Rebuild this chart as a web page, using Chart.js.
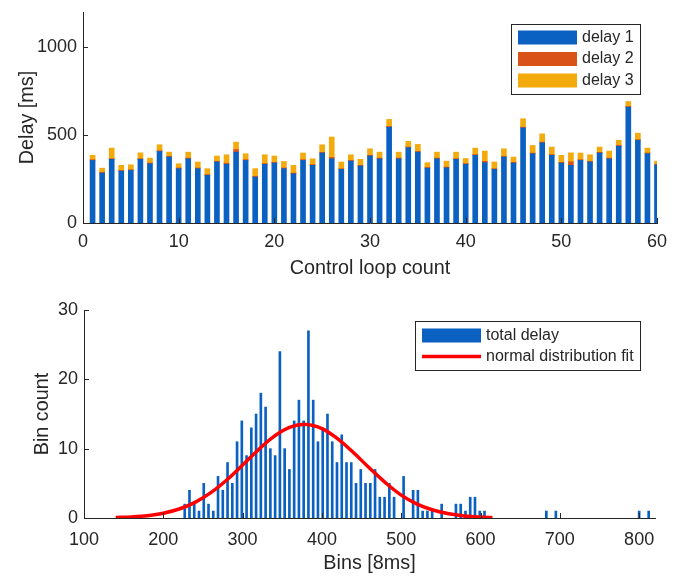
<!DOCTYPE html>
<html lang="en">
<head>
    <meta charset="UTF-8">
    <title>Delay charts</title>
    <style>
        body {
            margin: 0;
            background: #ffffff;
        }
        .wrap {
            position: relative;
            width: 681px;
            height: 577px;
        }
        #delayChart {
            position: absolute;
            left: 0;
            top: 0;
        }
        #histChart {
            position: absolute;
            left: 0;
            top: 290px;
        }
    </style>
</head>
<body>
    <div class="wrap">
        <canvas id="delayChart" width="681" height="290"></canvas>
        <canvas id="histChart" width="681" height="287"></canvas>
    </div>

    <script src="https://cdn.jsdelivr.net/npm/chart.js"></script>
    <script>
        // top chart: delay per control loop [ms]
        const loopCount = [1, 2, 3, 4, 5, 6, 7, 8, 9, 10, 11, 12, 13, 14, 15, 16, 17, 18, 19, 20,
            21, 22, 23, 24, 25, 26, 27, 28, 29, 30, 31, 32, 33, 34, 35, 36, 37, 38, 39, 40,
            41, 42, 43, 44, 45, 46, 47, 48, 49, 50, 51, 52, 53, 54, 55, 56, 57, 58, 59, 60];
        const delay1 = [356, 284, 362, 295, 299, 362, 337, 407, 375, 309, 365, 309, 271, 347, 334, 403, 356, 261, 334, 341,
            309, 280, 356, 328, 398, 365, 305, 352, 324, 381, 365, 545, 365, 428, 403, 312, 365, 314, 362, 334,
            385, 343, 305, 375, 341, 541, 394, 456, 385, 341, 328, 356, 347, 398, 365, 437, 659, 470, 394, 330];
        const delay2 = [4, 4, 4, 4, 4, 4, 4, 4, 4, 4, 4, 4, 4, 4, 6, 15, 4, 4, 4, 4,
            4, 4, 4, 4, 4, 8, 4, 4, 4, 4, 4, 4, 4, 4, 4, 4, 4, 4, 4, 4,
            4, 8, 4, 4, 4, 4, 4, 4, 4, 4, 20, 4, 4, 4, 4, 4, 4, 4, 4, 4];
        const delay3 = [25, 24, 60, 29, 28, 33, 28, 34, 24, 24, 34, 34, 34, 30, 48, 42, 34, 44, 50, 36,
            37, 44, 38, 33, 43, 116, 38, 32, 34, 37, 34, 40, 34, 32, 40, 27, 34, 34, 37, 29,
            37, 58, 38, 43, 30, 48, 43, 47, 43, 40, 51, 38, 37, 30, 40, 29, 28, 37, 28, 18];
        const loopTicks = [0, 10, 20, 30, 40, 50, 60];
        const delayTicks = [0, 500, 1000];

        // bottom chart: histogram of total delay + normal fit
        const binX = [227, 233, 239, 245, 251, 257, 263, 269, 275, 281, 287, 293, 299, 305, 311, 317, 323, 329, 335, 341,
            347, 353, 359, 365, 371, 377, 383, 389, 395, 401, 407, 413, 419, 425, 431, 437, 443, 449, 455, 461,
            467, 473, 479, 485, 491, 503, 515, 521, 527, 533, 539, 551, 569, 575, 581, 587, 593, 599, 605,
            683, 695, 800, 812];
        const binCount = [2, 4, 2, 1, 5, 2, 1, 6, 4, 8, 5, 11, 14, 9, 13, 15, 18, 16, 10, 9,
            24, 10, 7, 14, 17, 14, 27, 17, 11, 13, 15, 11, 8, 12, 8, 8, 5, 7, 5, 5,
            7, 3, 3, 5, 3, 6, 4, 4, 1, 1, 1, 2, 2, 2, 1, 3, 3, 1, 1,
            1, 1, 1, 1];
        const fitX = [140, 160, 180, 200, 220, 240, 260, 280, 300, 320, 340, 360, 380,
            400, 420, 440, 460, 480, 500, 520, 540, 560, 580, 600, 615];
        const fitY = [0.07, 0.16, 0.34, 0.69, 1.3, 2.26, 3.66, 5.48, 7.63, 9.85, 11.8, 13.1, 13.5,
            12.9, 11.4, 9.4, 7.2, 5.1, 3.3, 2.0, 1.15, 0.6, 0.29, 0.13, 0.07];
        const binTicks = [100, 200, 300, 400, 500, 600, 700, 800];
        const countTicks = [0, 10, 20, 30];

        const TEXT = '#262626';
        const BLUE = '#0B61C1';
        const ORANGE = '#D95319';
        const YELLOW = '#F2AA0C';
        const FONT = 'Arial, "Liberation Sans", Helvetica, sans-serif';

        Chart.defaults.font.family = FONT;
        Chart.defaults.color = TEXT;

        // MATLAB style ticks pointing into the plot
        const inwardTicks = {
            id: 'inwardTicks',
            afterDatasetsDraw(chart) {
                const { ctx, chartArea: a, scales } = chart;
                ctx.save();
                ctx.strokeStyle = TEXT;
                ctx.lineWidth = 1;
                scales.x.ticks.forEach(t => {
                    const px = Math.round(scales.x.getPixelForValue(t.value)) + 0.5;
                    ctx.beginPath();
                    ctx.moveTo(px, a.bottom);
                    ctx.lineTo(px, a.bottom - 5);
                    ctx.stroke();
                });
                scales.y.ticks.forEach(t => {
                    const py = Math.round(scales.y.getPixelForValue(t.value)) + 0.5;
                    ctx.beginPath();
                    ctx.moveTo(a.left, py);
                    ctx.lineTo(a.left + 5, py);
                    ctx.stroke();
                });
                ctx.restore();
            }
        };

        // legend box drawn inside the plot area
        const boxLegend = {
            id: 'boxLegend',
            afterDraw(chart, args, opts) {
                const { ctx } = chart;
                const ds = chart.data.datasets;
                ctx.save();
                ctx.fillStyle = '#ffffff';
                ctx.fillRect(opts.x, opts.y, opts.w, opts.h);
                ctx.strokeStyle = TEXT;
                ctx.lineWidth = 1;
                ctx.strokeRect(opts.x + 0.5, opts.y + 0.5, opts.w, opts.h);
                ctx.font = '16px ' + FONT;
                ctx.textBaseline = 'middle';
                opts.order.forEach((idx, i) => {
                    const d = ds[idx];
                    const cy = opts.y + opts.first + i * opts.step;
                    const sx = opts.x + 7;
                    if (d.type === 'line') {
                        ctx.strokeStyle = d.borderColor;
                        ctx.lineWidth = d.borderWidth;
                        ctx.beginPath();
                        ctx.moveTo(sx, cy);
                        ctx.lineTo(sx + 59, cy);
                        ctx.stroke();
                    } else {
                        ctx.fillStyle = d.backgroundColor;
                        ctx.fillRect(sx, cy - 7, 59, 14);
                    }
                    ctx.fillStyle = TEXT;
                    ctx.fillText(d.label, sx + 64, cy);
                });
                ctx.restore();
            }
        };

        const setTicks = values => scale => {
            scale.ticks = values.map(v => ({ value: v }));
        };
        const plainLabel = v => String(v);
        // fixed y-axis width, no extra room reserved for the end labels
        const fixWidth = w => scale => {
            scale.width = w;
            scale.paddingTop = 0;
            scale.paddingBottom = 0;
        };

        new Chart(document.getElementById('delayChart'), {
            type: 'bar',
            data: {
                labels: loopCount,
                datasets: [
                    { label: 'delay 1', data: delay1, backgroundColor: BLUE, barThickness: 5 },
                    { label: 'delay 2', data: delay2, backgroundColor: ORANGE, barThickness: 5 },
                    { label: 'delay 3', data: delay3, backgroundColor: YELLOW, barThickness: 5 }
                ]
            },
            options: {
                responsive: false,
                animation: false,
                layout: { padding: { top: 12, right: 24, bottom: 8, left: 0 } },
                plugins: {
                    legend: { display: false },
                    tooltip: { enabled: false },
                    boxLegend: { x: 511, y: 24, w: 129, h: 70, first: 13.5, step: 21.5, order: [0, 1, 2] }
                },
                scales: {
                    x: {
                        type: 'linear',
                        stacked: true,
                        offset: false,
                        min: 0,
                        max: 60,
                        afterBuildTicks: setTicks(loopTicks),
                        afterFit: scale => { scale.height = 59; },
                        grid: { display: false, drawTicks: false },
                        border: { color: TEXT },
                        ticks: { padding: 8, font: { size: 18 }, maxRotation: 0, callback: plainLabel },
                        title: { display: true, text: 'Control loop count', font: { size: 19.8 }, padding: { top: 3.5, bottom: 2 } }
                    },
                    y: {
                        stacked: true,
                        min: 0,
                        max: 1200,
                        afterBuildTicks: setTicks(delayTicks),
                        afterFit: fixWidth(83),
                        grid: { display: false, drawTicks: false },
                        border: { color: TEXT },
                        ticks: { padding: 6, font: { size: 18 }, callback: plainLabel },
                        title: { display: true, text: 'Delay [ms]', font: { size: 19.8 }, padding: { top: 16, bottom: 0 } }
                    }
                }
            },
            plugins: [inwardTicks, boxLegend]
        });

        new Chart(document.getElementById('histChart'), {
            type: 'bar',
            data: {
                datasets: [
                    {
                        type: 'line',
                        label: 'normal distribution fit',
                        data: fitX.map((x, i) => ({ x: x, y: fitY[i] })),
                        borderColor: '#FF0000',
                        borderWidth: 3.5,
                        pointRadius: 0,
                        tension: 0.4,
                        order: 0
                    },
                    {
                        type: 'bar',
                        label: 'total delay',
                        data: binX.map((x, i) => ({ x: x, y: binCount[i] })),
                        backgroundColor: BLUE,
                        barThickness: 2,
                        order: 1
                    }
                ]
            },
            options: {
                responsive: false,
                animation: false,
                layout: { padding: { top: 20, right: 26, bottom: 1, left: 0 } },
                plugins: {
                    legend: { display: false },
                    tooltip: { enabled: false },
                    boxLegend: { x: 415, y: 31, w: 225, h: 49, first: 14.5, step: 21, order: [1, 0] }
                },
                scales: {
                    x: {
                        type: 'linear',
                        offset: false,
                        min: 100,
                        max: 820,
                        afterBuildTicks: setTicks(binTicks),
                        afterFit: scale => { scale.height = 58; },
                        grid: { display: false, drawTicks: false },
                        border: { color: TEXT },
                        ticks: { padding: 11, font: { size: 18 }, maxRotation: 0, callback: plainLabel },
                        title: { display: true, text: 'Bins [8ms]', font: { size: 19.8 }, padding: { top: 1, bottom: 1 } }
                    },
                    y: {
                        min: 0,
                        max: 30,
                        afterBuildTicks: setTicks(countTicks),
                        afterFit: fixWidth(84),
                        grid: { display: false, drawTicks: false },
                        border: { color: TEXT },
                        ticks: { padding: 6, font: { size: 18 }, callback: plainLabel },
                        title: { display: true, text: 'Bin count', font: { size: 19.8 }, padding: { top: 31, bottom: 0 } }
                    }
                }
            },
            plugins: [inwardTicks, boxLegend]
        });
    </script>
</body>
</html>
